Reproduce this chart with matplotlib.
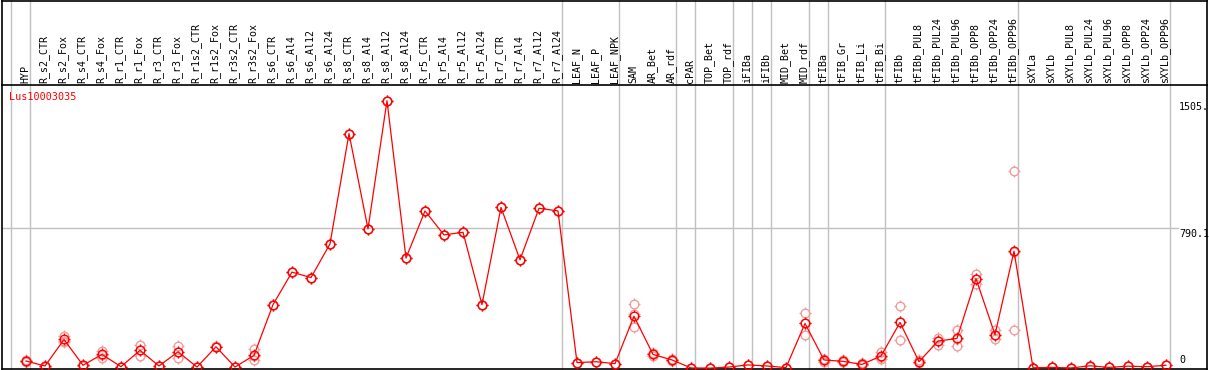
import numpy as np
import matplotlib

matplotlib.use("Agg")
import matplotlib.pyplot as plt
from matplotlib.path import Path
from matplotlib.lines import Line2D
import matplotlib.transforms as mtransforms

W, H = 1209, 370
RED = "#ff0000"
PALE = "#f29c9c"
GRID = "#c0c0c0"
FONT = "DejaVu Sans Mono"
FS = 7.2

gene = "Lus10003035"

labels = [
    "HYP", "R_s2_CTR", "R_s2_Fox", "R_s4_CTR", "R_s4_Fox", "R_r1_CTR", "R_r1_Fox",
    "R_r3_CTR", "R_r3_Fox", "R_r1s2_CTR", "R_r1s2_Fox", "R_r3s2_CTR", "R_r3s2_Fox",
    "R_s6_CTR", "R_s6_Al4", "R_s6_Al12", "R_s6_Al24", "R_s8_CTR", "R_s8_Al4",
    "R_s8_Al12", "R_s8_Al24", "R_r5_CTR", "R_r5_Al4", "R_r5_Al12", "R_r5_Al24",
    "R_r7_CTR", "R_r7_Al4", "R_r7_Al12", "R_r7_Al24", "LEAF_N", "LEAF_P", "LEAF_NPK",
    "SAM", "AR_Bet", "AR_rdf", "cPAR", "TOP_Bet", "TOP_rdf", "iFIBa", "iFIBb",
    "MID_Bet", "MID_rdf", "tFIBa", "tFIB_Gr", "tFIB_Li", "tFIB_Bi", "tFIBb",
    "tFIBb_PUL8", "tFIBb_PUL24", "tFIBb_PUL96", "tFIBb_OPP8", "tFIBb_OPP24",
    "tFIBb_OPP96", "sXYLa", "sXYLb", "sXYLb_PUL8", "sXYLb_PUL24", "sXYLb_PUL96",
    "sXYLb_OPP8", "sXYLb_OPP24", "sXYLb_OPP96",
]

means = [
    41, 13, 162, 17, 78, 9, 101, 13, 93, 7, 121, 7, 73,
    358, 541, 510, 700, 1320, 784, 1505, 620, 885, 750, 765, 358,
    905, 610, 900, 885, 32, 37, 26,
    293, 78, 47, 2, 1, 7, 19, 13, 4, 252,
    47, 39, 22, 69, 258, 37, 153, 168, 504, 189, 659,
    3, 5, 2, 14, 5, 12, 9, 17,
]

# three replicate values per sample (pale circles)
reps = [
    [38, 45, 40], [10, 15, 14], [181, 150, 155], [15, 18, 18], [97, 60, 77],
    [8, 10, 9], [129, 69, 105], [12, 14, 13], [125, 60, 94], [6, 8, 7],
    [125, 118, 120], [6, 8, 7], [106, 45, 68],
    [358, 358, 358], [541, 541, 541], [510, 510, 510], [700, 700, 700],
    [1320, 1320, 1320], [784, 784, 784], [1505, 1505, 1505], [620, 620, 620],
    [885, 885, 885], [750, 750, 750], [765, 765, 765], [358, 358, 358],
    [905, 905, 905], [610, 610, 610], [900, 900, 900], [885, 885, 885],
    [32, 32, 32], [37, 37, 37], [26, 26, 26],
    [364, 306, 233], [85, 70, 79], [40, 52, 49], [2, 2, 2], [1, 1, 1],
    [7, 7, 7], [19, 19, 19], [13, 13, 13], [4, 4, 4], [312, 187, 257],
    [55, 38, 48], [48, 35, 34], [28, 18, 20], [91, 55, 61], [351, 161, 262],
    [45, 28, 38], [172, 131, 156], [218, 123, 163], [532, 476, 504],
    [214, 164, 189], [1107, 218, 652],
    [3, 3, 3], [5, 5, 5], [2, 2, 2], [14, 14, 14], [5, 5, 5], [12, 12, 12],
    [9, 9, 9], [17, 17, 17],
]

# group separators drawn after these sample indices
separators = [-1, 0, 28, 31, 34, 35, 37, 38, 39, 41, 42, 45, 52, 60]

ytick_vals = [1505, 790.1, 0]
ytick_text = ["1505.", "790.1", "0"]


def px(x, y):
    return x / W, 1 - y / H


# four short ticks around the circle marker
TICKS = Path([(0, 0.72), (0, 1), (0, -0.72), (0, -1), (0.72, 0), (1, 0), (-0.72, 0), (-1, 0)],
             [Path.MOVETO, Path.LINETO] * 4)


def marks(ax, xs, ys, color, z):
    ax.plot(xs, ys, linestyle="none", marker="o", markersize=6.2,
            markerfacecolor="none", markeredgecolor=color, markeredgewidth=1.0, zorder=z)
    ax.plot(xs, ys, linestyle="none", marker=TICKS, markersize=8.6,
            markeredgecolor=color, markeredgewidth=0.9, zorder=z)


fig = plt.figure(figsize=(W / 100, H / 100), dpi=100)
top, bot, left, right = 85, 368.5, 2, 1207
ax = fig.add_axes([left / W, (H - bot) / H, (right - left) / W, (bot - top) / H])

step = 19.0
ax.set_xlim((left - 26) / step, (right - 26) / step)
scale = 140.7 / 790.1
ax.set_ylim(-(368.7 - bot) / scale, (368.7 - top) / scale)
ax.set_xticks([])
ax.set_yticks([])
for s in ax.spines.values():
    s.set_color("black")
    s.set_linewidth(1.2)

x = np.arange(len(labels))

# gridlines
for b in separators:
    ax.axvline(b + 4 / step, ymin=0, ymax=bot / (bot - top), color=GRID,
               lw=1.0, clip_on=False, zorder=1)
ax.axhline(790.1, xmin=0, xmax=(1178 - left) / (right - left), color=GRID,
           lw=1.0, zorder=1)

# replicates
for i, r in enumerate(reps):
    marks(ax, [i] * len(r), r, PALE, 2)

ax.plot(x, means, color=RED, lw=0.9, zorder=3)
marks(ax, x, means, RED, 4)

# sample labels in the header
hdr = mtransforms.offset_copy(mtransforms.blended_transform_factory(ax.transData, ax.transAxes),
                              fig=fig, x=0, y=2.2, units="dots")
for i, lab in enumerate(labels):
    ax.text(i - 0.05, 1.0, lab, transform=hdr, rotation=90, ha="center", va="bottom",
            fontsize=FS, family=FONT, color="black", clip_on=False)

# value labels on the right
yt = mtransforms.blended_transform_factory(ax.transAxes, ax.transData)
xl = (1179 - left) / (right - left)
for v, s in zip(ytick_vals, ytick_text):
    if v == 0:
        tr = mtransforms.offset_copy(yt, fig=fig, x=0, y=3, units="dots")
        ax.text(xl, v, s, transform=tr, ha="left", va="bottom", fontsize=FS,
                family=FONT, color="black")
    else:
        tr = mtransforms.offset_copy(yt, fig=fig, x=0, y=-1, units="dots")
        ax.text(xl, v, s, transform=tr, ha="left", va="top", fontsize=FS,
                family=FONT, color="black")

fig.text(*px(9, 96.7), gene, ha="left", va="center", fontsize=7.3, family=FONT, color=RED)

# outer frame of the header
for (x0, y0), (x1, y1) in [((left, 0.6), (right, 0.6)), ((left, 0), (left, top)),
                           ((right, 0), (right, top))]:
    a, b_ = px(x0, y0)
    c, d = px(x1, y1)
    fig.add_artist(Line2D([a, c], [b_, d], color="black", lw=1.2))

fig.savefig("out.png", dpi=100)
